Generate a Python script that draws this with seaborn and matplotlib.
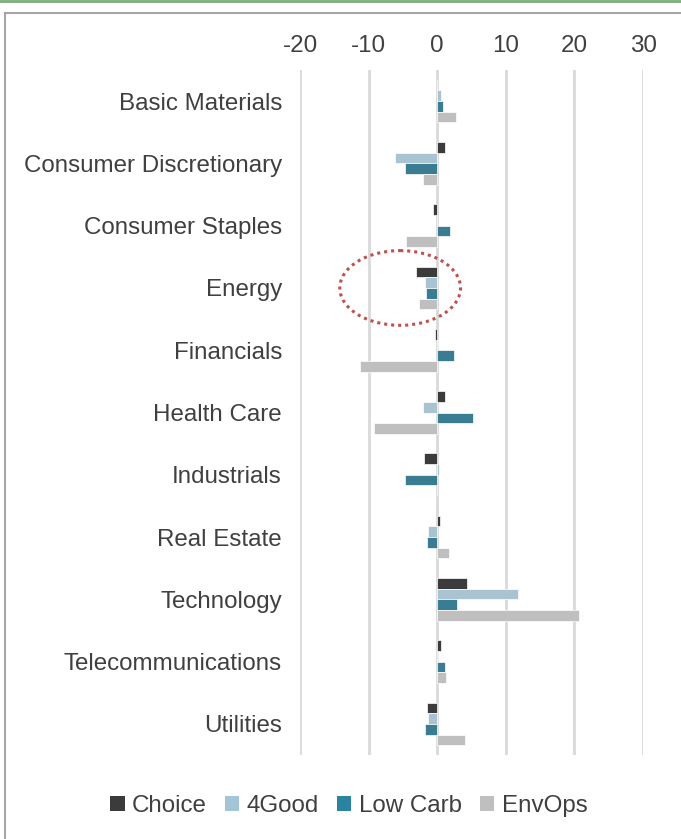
"""
Sector active weights by strategy, horizontal grouped bars
"""
import matplotlib
matplotlib.use("Agg")
import matplotlib.pyplot as plt
from matplotlib.patches import Ellipse, Rectangle
from matplotlib.lines import Line2D
import seaborn as sns
import pandas as pd

# Data
sectors = ["Basic Materials", "Consumer Discretionary", "Consumer Staples", "Energy",
           "Financials", "Health Care", "Industrials", "Real Estate", "Technology",
           "Telecommunications", "Utilities"]
choice = [0.0, 1.2, -0.6, -3.1, -0.3, 1.2, -1.9, 0.4, 4.4, 0.5, -1.5]
good4 = [0.55, -6.2, 0.0, -1.8, 0.1, -2.0, 0.2, -1.35, 11.85, 0.1, -1.4]
low_carb = [0.9, -4.7, 1.9, -1.6, 2.5, 5.2, -4.7, -1.45, 2.9, 1.2, -1.8]
envops = [2.7, -2.1, -4.6, -2.6, -11.3, -9.2, -0.1, 1.65, 20.6, 1.3, 4.1]
series_names = ["Choice", "4Good", "Low Carb", "EnvOps"]
x_ticks = [-20, -10, 0, 10, 20, 30]

colors = ["#3b3b3b", "#a3c6d6", "#2b83a0", "#bfbfbf"]

df = pd.DataFrame({"Choice": choice, "4Good": good4, "Low Carb": low_carb,
                   "EnvOps": envops}, index=sectors)
long_df = df.reset_index().melt(id_vars="index", var_name="series", value_name="value")
long_df = long_df.rename(columns={"index": "sector"})

sns.set_style("white")
plt.rcParams["font.family"] = ["Liberation Sans", "DejaVu Sans"]
text_color = "#404040"
fsize = 17.4

fig = plt.figure(figsize=(6.81, 8.39), dpi=100)
W, H = 681, 839
ax = fig.add_axes([300 / W, 1 - 755 / H, 343 / W, 685 / H])

sns.barplot(data=long_df, y="sector", x="value", hue="series", order=sectors,
            hue_order=series_names, palette=colors, orient="h", width=0.685,
            edgecolor="white", linewidth=0.5, ax=ax, legend=False)

ax.set_xlim(-20, 30)
ax.set_ylim(len(sectors) - 0.5, -0.5)
ax.set_xticks(x_ticks)
ax.set_xticklabels([str(t) for t in x_ticks])
ax.xaxis.tick_top()
ax.tick_params(axis="x", length=0, pad=9, labelsize=fsize, colors=text_color)
ax.tick_params(axis="y", length=0, pad=13, labelsize=fsize, colors=text_color)
ax.set_xlabel("")
ax.set_ylabel("")
for s in ax.spines.values():
    s.set_visible(False)
ax.grid(axis="x", color="#d9d9d9", linewidth=2)
ax.grid(axis="y", visible=False)
ax.set_axisbelow(True)

# Dotted circle around Energy
ax.add_patch(Ellipse((-5.4, 3.0), 17.6, 1.2, fill=False, linestyle=(0, (1, 1.3)),
                     edgecolor="#c0504d", linewidth=2.2, clip_on=False, zorder=5))

# Legend
handles = [Rectangle((0, 0), 1, 1, facecolor=c, edgecolor="none") for c in colors]
fig.legend(handles, series_names, loc="center", bbox_to_anchor=(0.512, 1 - 806 / H),
           ncol=4, frameon=False, fontsize=17.4, handlelength=0.6, handleheight=0.6,
           handletextpad=0.3, columnspacing=0.75, labelcolor=text_color)

# Frame and top accent line
fig.add_artist(Rectangle((5 / W, -0.01), 1.0, 1 - 13 / H + 0.01, transform=fig.transFigure,
                         fill=False, edgecolor="#a6a6a6", linewidth=1.5))
fig.add_artist(Line2D([0, 1], [1 - 1 / H, 1 - 1 / H], transform=fig.transFigure,
                      color="#7aae7a", linewidth=2))

fig.savefig("out.png", dpi=100)
